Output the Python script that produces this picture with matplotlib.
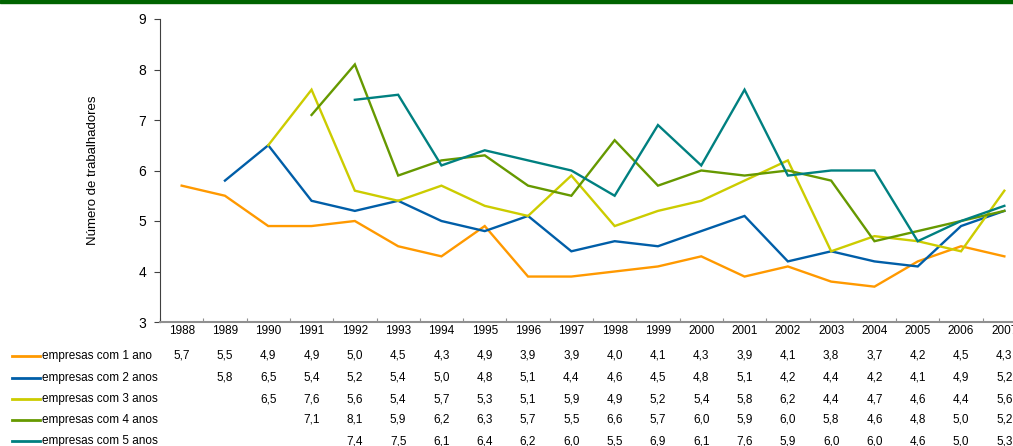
import matplotlib
matplotlib.use("Agg")
import matplotlib.pyplot as plt
import matplotlib.transforms as mtransforms
import numpy as np

plt.rcParams['font.family'] = ['Liberation Sans', 'DejaVu Sans']

years = [str(y) for y in range(1988, 2008)]
series_names = ["empresas com 1 ano", "empresas com 2 anos", "empresas com 3 anos",
                "empresas com 4 anos", "empresas com 5 anos"]
s1 = [5.7, 5.5, 4.9, 4.9, 5.0, 4.5, 4.3, 4.9, 3.9, 3.9, 4.0, 4.1, 4.3, 3.9, 4.1, 3.8, 3.7, 4.2, 4.5, 4.3]
s2 = [None, 5.8, 6.5, 5.4, 5.2, 5.4, 5.0, 4.8, 5.1, 4.4, 4.6, 4.5, 4.8, 5.1, 4.2, 4.4, 4.2, 4.1, 4.9, 5.2]
s3 = [None, None, 6.5, 7.6, 5.6, 5.4, 5.7, 5.3, 5.1, 5.9, 4.9, 5.2, 5.4, 5.8, 6.2, 4.4, 4.7, 4.6, 4.4, 5.6]
s4 = [None, None, None, 7.1, 8.1, 5.9, 6.2, 6.3, 5.7, 5.5, 6.6, 5.7, 6.0, 5.9, 6.0, 5.8, 4.6, 4.8, 5.0, 5.2]
s5 = [None, None, None, None, 7.4, 7.5, 6.1, 6.4, 6.2, 6.0, 5.5, 6.9, 6.1, 7.6, 5.9, 6.0, 6.0, 4.6, 5.0, 5.3]
series = [s1, s2, s3, s4, s5]
colors = ["#FF9900", "#005EA8", "#CCCC00", "#669900", "#008080"]

W, H = 1013, 446
fig = plt.figure(figsize=(W / 100, H / 100), dpi=100)
fig.patch.set_facecolor("white")

# top green bar
fig.add_artist(plt.Rectangle((0, 1 - 3 / H), 1, 3 / H, transform=fig.transFigure,
                             color="#006400", zorder=10))

left_px, right_px, top_px, bot_px = 160, 1026, 19, 322
ax = fig.add_axes([left_px / W, 1 - bot_px / H, (right_px - left_px) / W, (bot_px - top_px) / H])

x = np.arange(len(years))
for vals, c in zip(series, colors):
    v = np.array([np.nan if a is None else a for a in vals], dtype=float)
    ax.plot(x, v, color=c, lw=1.7, solid_joinstyle="miter")

ax.set_xlim(-0.5, len(years) - 0.5)
ax.set_ylim(3, 9)
ax.set_yticks(range(3, 10))
ax.tick_params(axis="y", labelsize=10, length=4, width=0.8, color="#404040", pad=6)
for s in ["top", "right"]:
    ax.spines[s].set_visible(False)
ax.spines["left"].set_color("#404040")
ax.spines["left"].set_linewidth(0.8)
ax.spines["bottom"].set_color("#909090")
ax.spines["bottom"].set_linewidth(1.5)
ax.set_xticks(np.arange(-0.5, len(years), 1.0))
ax.set_xticklabels([])
ax.tick_params(axis="x", length=3, color="#909090", direction="in")
ax.set_ylabel("Número de trabalhadores", fontsize=9.5, labelpad=28)

# data table
trans = mtransforms.blended_transform_factory(ax.transData, fig.transFigure)
for i, yr in enumerate(years):
    ax.text(i, 1 - 331 / H, yr, transform=trans, ha="center", va="center", fontsize=8.5,
            clip_on=False)
row_y = [356, 378, 399, 420, 441]
for name, vals, c, ry in zip(series_names, series, colors, row_y):
    yy = 1 - ry / H
    fig.add_artist(plt.Line2D([12 / W, 40 / W], [yy, yy], transform=fig.transFigure,
                              color=c, lw=2))
    fig.text(42 / W, yy, name, ha="left", va="center", fontsize=8.5)
    for i, v in enumerate(vals):
        if v is None:
            continue
        ax.text(i, yy, f"{v:.1f}".replace(".", ","), transform=trans, ha="center",
                va="center", fontsize=8.5, clip_on=False)

fig.savefig("out.png", dpi=100)
